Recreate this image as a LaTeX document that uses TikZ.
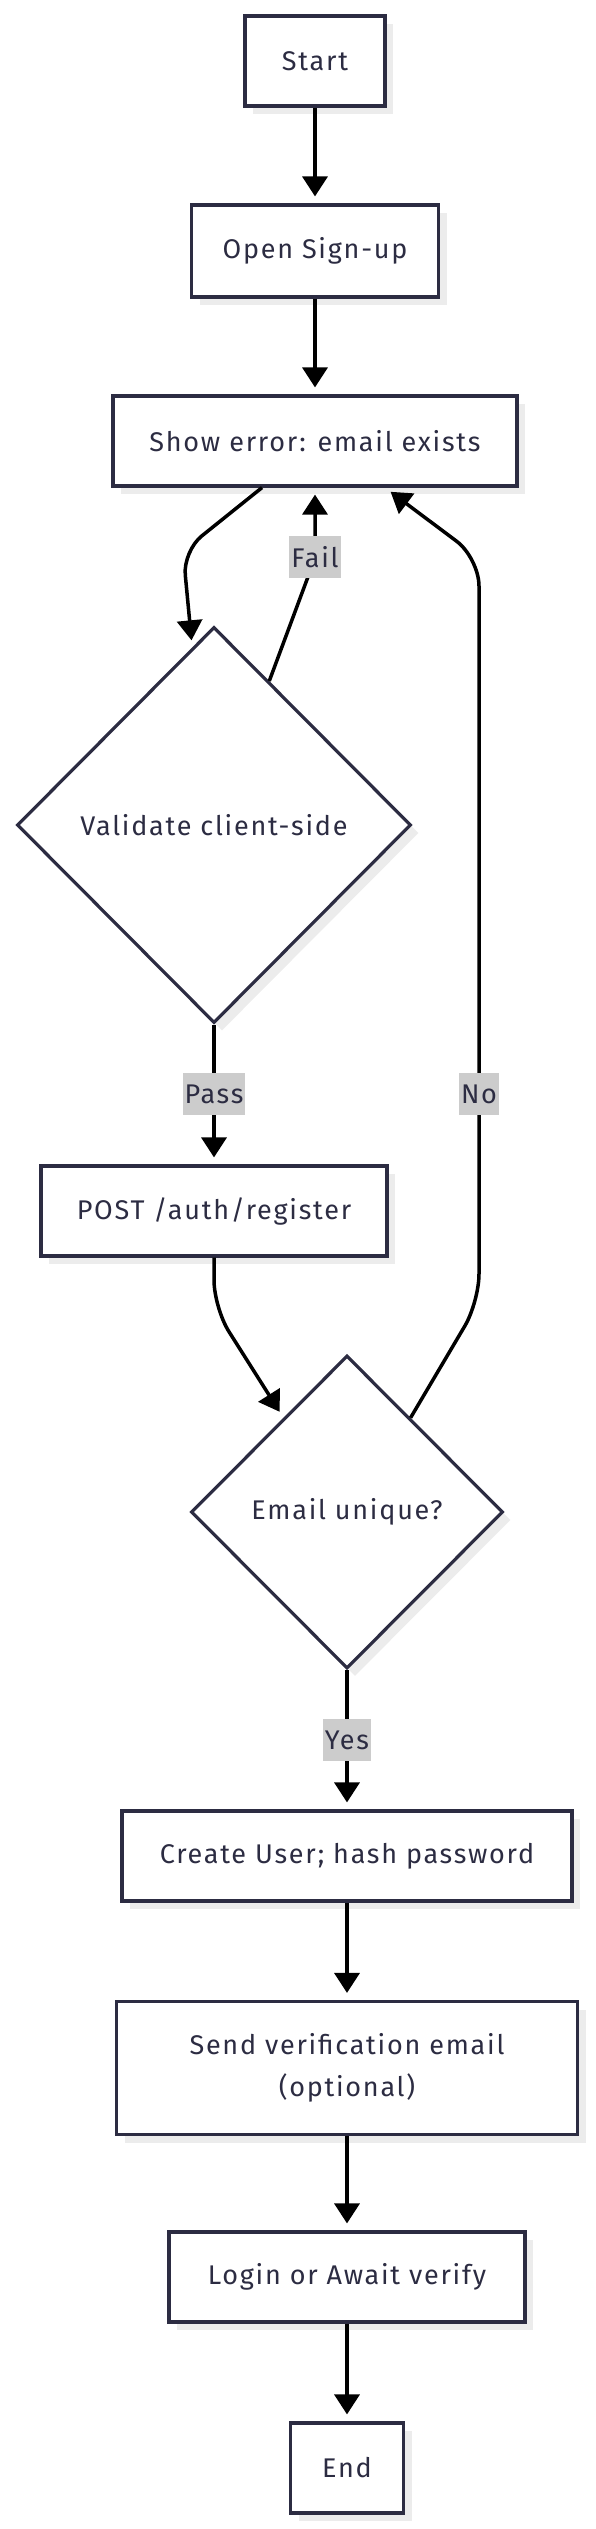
\documentclass[tikz,border=0pt]{standalone}
\usepackage{fontspec}
\setmainfont{Fira Sans}
\newfontfamily\flowfont[LetterSpace=6.5]{Fira Sans}
\usepackage{tikz}
\usetikzlibrary{arrows.meta,shapes.geometric,shadows}
\definecolor{ink}{RGB}{44,44,66}
\definecolor{shade}{RGB}{236,236,236}
\definecolor{lblgray}{RGB}{204,204,204}
\tikzset{box/.style={draw=ink,line width=1.6pt,fill=white,text=ink,font=\flowfont\fontsize{13.5pt}{21pt}\selectfont,minimum height=45pt,inner sep=0pt,align=center,drop shadow={shadow xshift=4pt,shadow yshift=-4pt,fill=shade,opacity=1}},
decide/.style={box,diamond,aspect=1},
flow/.style={line width=1.75pt,-{Triangle[length=10pt,width=12.5pt]},shorten >=3.5pt},
lbl/.style={fill=lblgray,text=ink,font=\flowfont\fontsize{13.5pt}{21pt}\selectfont,inner xsep=1pt,inner ysep=0pt,minimum height=20.8pt}}
\begin{document}
\begin{tikzpicture}[x=0.5pt,y=-0.5pt]%sign-up flow
\useasboundingbox (0,0) rectangle (595,2529);
%the boxes
\node[box,minimum width=70pt] (start) at (315,61) {Start};
\node[box,minimum width=123.5pt,minimum height=46pt] (open) at (315,251) {Open Sign-up};
\node[box,minimum width=202pt] (err) at (315,441) {Show error: email exists};
\node[decide,minimum width=197pt,minimum height=198pt] (valid) at (214,825) {Validate client-side};
\node[box,minimum width=173pt] (post) at (214,1211) {POST /auth/register};
\node[decide,minimum width=156pt,minimum height=156.5pt] (uniq) at (347,1512) {Email unique?};
\node[box,minimum width=225pt] (create) at (347,1856) {Create User; hash password};
\node[box,minimum width=230.5pt,minimum height=66.5pt] (send) at (347,2068) {Send verification email\\(optional)};
\node[box,minimum width=178pt] (login) at (347,2277) {Login or Await verify};
\node[box,minimum width=56.5pt] (end) at (347,2468) {End};
%straight arrows
\draw[flow] (start) -- (open); \draw[flow] (open) -- (err);
\draw[flow] (valid) -- (post); \draw[flow] (uniq) -- (create);
\draw[flow] (create) -- (send); \draw[flow] (send) -- (login); \draw[flow] (login) -- (end);
%bent arrows
\draw[flow,rounded corners=12pt] ([xshift=-26.5pt]err.south) -- (183,551) -- (valid.97);
\draw[flow,rounded corners=10pt] (valid.69) -- (315,558) -- (err.south);
\draw[flow,rounded corners=14pt] (post.south) -- (214,1308) -- (uniq.124);
\draw[flow,rounded corners=14pt] (uniq.56) -- (479,1302) -- (479,558) -- ([xshift=35pt]err.south);
%edge labels
\node[lbl] (fail) at (315,557) {Fail}; \node[lbl] (pass) at (214,1094) {Pass};
\node[lbl] (no) at (479,1094) {No}; \node[lbl] (yes) at (347,1740) {Yes};
\end{tikzpicture}
\end{document}
